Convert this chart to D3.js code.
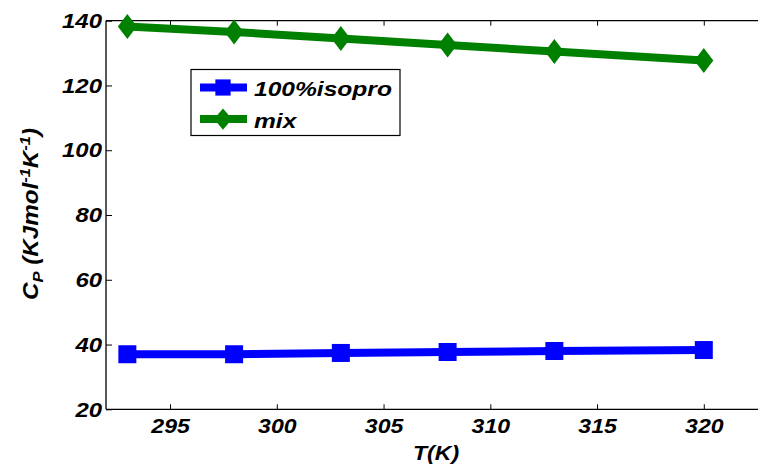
<!DOCTYPE html>
<html>
<head>
  <meta charset="utf-8">
  <script src="https://d3js.org/d3.v7.min.js"></script>
  <style>
    body { margin:0; background:#fff; }
    text { font-family:"Liberation Sans", Arial, sans-serif; font-weight:bold; font-style:italic; fill:#000; }
  </style>
</head>
<body>
  <script>
    // donnees
    var tempK = [293, 298, 303, 308, 313, 320];
    var isopro = [37.0, 37.0, 37.4, 37.7, 38.0, 38.3];
    var mix = [138.2, 136.5, 134.5, 132.5, 130.5, 127.7];
    var xTicks = [295, 300, 305, 310, 315, 320];
    var yTicks = [20, 40, 60, 80, 100, 120, 140];
    var seriesNames = ["100%isopro", "mix"];

    var W = 758, H = 464;
    var plotLeft = 106, plotTop = 20.7, plotBottom = 409.3;

    var svg = d3.select("body").append("svg")
      .attr("width", W)
      .attr("height", H);

    var x = d3.scaleLinear().domain([292, 323]).range([plotLeft, plotLeft + 31 * 21.35]);
    var y = d3.scaleLinear().domain([20, 140]).range([plotBottom, plotTop]);

    // etirement horizontal du texte (comme sur la figure)
    function stretch(sel, k) {
      sel.each(function() {
        var w = this.getComputedTextLength();
        d3.select(this).attr("textLength", w * k).attr("lengthAdjust", "spacingAndGlyphs");
      });
    }

    // axes
    var gy = svg.append("g").attr("transform", "translate(" + plotLeft + ",0)")
      .call(d3.axisLeft(y).tickValues(yTicks).tickSizeInner(-6).tickSizeOuter(0).tickPadding(4));
    var gx = svg.append("g").attr("transform", "translate(0," + plotBottom + ")")
      .call(d3.axisBottom(x).tickValues(xTicks).tickSizeInner(-5).tickSizeOuter(0).tickPadding(9));
    var gt = svg.append("g").attr("transform", "translate(0," + plotTop + ")")
      .call(d3.axisTop(x).tickValues(xTicks).tickSizeInner(-5).tickSizeOuter(0).tickFormat(""));

    [gy, gx, gt].forEach(function(g) {
      g.select(".domain").remove();
      g.selectAll(".tick line").attr("stroke", "#000").attr("stroke-width", 1);
      g.selectAll(".tick text").attr("font-size", "21px").attr("fill", "#000");
    });
    stretch(gy.selectAll(".tick text"), 1.14);
    stretch(gx.selectAll(".tick text"), 1.1);

    // cadre
    svg.append("line").attr("x1", plotLeft).attr("x2", plotLeft).attr("y1", plotTop).attr("y2", plotBottom)
      .attr("stroke", "#000").attr("stroke-width", 1.3);
    svg.append("line").attr("x1", plotLeft).attr("x2", W).attr("y1", plotBottom).attr("y2", plotBottom)
      .attr("stroke", "#000").attr("stroke-width", 1.3);
    svg.append("line").attr("x1", plotLeft).attr("x2", W).attr("y1", plotTop).attr("y2", plotTop)
      .attr("stroke", "#000").attr("stroke-width", 1.3);

    // courbes
    var series = [
      { name: seriesNames[0], values: isopro, color: "#0000ff", marker: "square" },
      { name: seriesNames[1], values: mix, color: "#008000", marker: "diamond" }
    ];

    function markerPath(type) {
      if (type === "square") return "M-9,-9L9,-9L9,9L-9,9Z";
      return "M0,-12.5L9.5,0L0,12.5L-9.5,0Z";
    }

    var line = d3.line()
      .x(function(d, i) { return x(tempK[i]); })
      .y(function(d) { return y(d); });

    series.forEach(function(s) {
      svg.append("path")
        .attr("d", line(s.values))
        .attr("fill", "none")
        .attr("stroke", s.color)
        .attr("stroke-width", 8)
        .attr("stroke-linejoin", "round");
      svg.selectAll(null)
        .data(s.values)
        .enter()
        .append("path")
        .attr("d", markerPath(s.marker))
        .attr("transform", function(d, i) { return "translate(" + x(tempK[i]) + "," + y(d) + ")"; })
        .attr("fill", s.color);
    });

    // legende
    var lg = svg.append("g");
    lg.append("rect").attr("x", 191).attr("y", 69.5).attr("width", 209).attr("height", 66)
      .attr("fill", "#fff").attr("stroke", "#000").attr("stroke-width", 1.2);
    var rowY = [87.5, 119];
    series.forEach(function(s, i) {
      lg.append("line").attr("x1", 200).attr("x2", 247).attr("y1", rowY[i]).attr("y2", rowY[i])
        .attr("stroke", s.color).attr("stroke-width", 8);
      lg.append("path").attr("d", markerPath(s.marker))
        .attr("transform", "translate(223," + rowY[i] + ")" + (s.marker === "square" ? " scale(0.85,0.9)" : " scale(0.95,0.85)"))
        .attr("fill", s.color);
      var t = lg.append("text").attr("x", 254).attr("y", rowY[i] + 8.5)
        .attr("font-size", "21px").text(s.name);
      stretch(t, 1.17);
    });

    // titres des axes
    var xl = svg.append("text").attr("x", 436).attr("y", 460)
      .attr("text-anchor", "middle").attr("font-size", "21px").text("T(K)");
    stretch(xl, 1.1);

    var yl = svg.append("text")
      .attr("transform", "translate(38,214) rotate(-90)")
      .attr("text-anchor", "middle")
      .attr("font-size", "22px");
    yl.append("tspan").text("C");
    yl.append("tspan").attr("font-size", "15px").attr("dy", 5).text("P");
    yl.append("tspan").attr("dy", -5).text(" (KJmol");
    yl.append("tspan").attr("font-size", "15px").attr("dy", -8).text("-1");
    yl.append("tspan").attr("dy", 8).text("K");
    yl.append("tspan").attr("font-size", "15px").attr("dy", -8).text("-1");
    yl.append("tspan").attr("dy", 8).text(")");
    stretch(yl, 1.1);
  </script>
</body>
</html>
